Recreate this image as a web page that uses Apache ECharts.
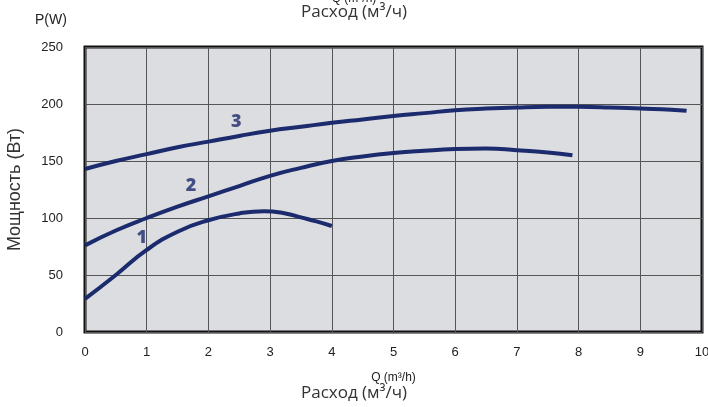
<!DOCTYPE html>
<html lang="ru">
<head>
    <meta charset="UTF-8">
    <title>Мощность - Расход</title>
    <style>
        html, body { margin: 0; padding: 0; background: #fff; }
        #chart { width: 708px; height: 407px; }
    </style>
</head>
<body>
    <div id="chart"></div>
    <script src="https://cdn.jsdelivr.net/npm/echarts@6.0.0/dist/echarts.min.js"></script>
    <script>
        // данные кривых (Q м3/ч, P Вт)
        const curve1 = [[0, 29], [0.5, 50], [1, 72], [1.5, 88], [2, 98], [2.5, 104], [2.9, 106], [3.25, 104], [3.5, 100.5], [3.75, 97], [4, 93]];
        const curve2 = [[0, 76], [0.5, 89], [1, 100], [1.5, 110], [2, 119], [2.5, 128], [3, 137], [3.5, 144], [4, 150], [4.5, 154], [5, 157], [5.5, 159], [6, 160.5], [6.5, 161], [7, 159.5], [7.5, 157.5], [7.9, 155]];
        const curve3 = [[0, 143], [0.5, 150], [1, 156], [1.5, 162], [2, 167], [2.5, 172], [3, 176.5], [3.5, 180], [4, 183.5], [4.5, 186.5], [5, 189.5], [5.5, 192], [6, 194.5], [6.5, 196], [7, 197], [7.5, 197.5], [8, 197.5], [8.5, 197], [9, 196], [9.5, 195], [9.75, 194]];
        const curveLabels = [[0.92, 83, '1'], [1.72, 128, '2'], [2.45, 184, '3']];
        const xTicks = [0, 1, 2, 3, 4, 5, 6, 7, 8, 9, 10];
        const yTicks = [0, 50, 100, 150, 200, 250];

        const lineColor = '#1b2b6d';
        const labelFont = '"Liberation Sans Narrow", "Liberation Sans", Arial, sans-serif';

        function curve(data) {
            return {
                type: 'line',
                data: data,
                smooth: true,
                showSymbol: false,
                lineStyle: { color: lineColor, width: 4 },
                z: 3
            };
        }

        const chart = echarts.init(document.getElementById('chart'));
        chart.setOption({
            animation: false,
            grid: {
                left: 85, right: 6, top: 47, bottom: 75,
                outerBoundsMode: 'none',
                show: true,
                backgroundColor: '#dcdde0',
                borderColor: '#111',
                borderWidth: 3,
                z: 0
            },
            xAxis: {
                type: 'value',
                min: xTicks[0],
                max: xTicks[xTicks.length - 1],
                interval: 1,
                axisLine: { show: false },
                axisTick: { show: false },
                axisLabel: { color: '#222', fontSize: 13, fontFamily: labelFont, margin: 14 },
                splitLine: { lineStyle: { color: '#555', width: 1 } },
                name: 'Q (m³/h)',
                nameLocation: 'middle',
                nameGap: 40,
                nameTextStyle: { color: '#222', fontSize: 12, fontFamily: labelFont }
            },
            yAxis: {
                type: 'value',
                min: yTicks[0],
                max: yTicks[yTicks.length - 1],
                interval: 50,
                axisLine: { show: false },
                axisTick: { show: false },
                axisLabel: { color: '#222', fontSize: 13, fontFamily: labelFont, margin: 22 },
                splitLine: { lineStyle: { color: '#555', width: 1 } },
                name: 'Мощность (Вт)',
                nameLocation: 'middle',
                nameRotate: 90,
                nameGap: 61,
                nameTextStyle: { color: '#333', fontSize: 18, fontFamily: '"Liberation Sans", Arial, sans-serif' }
            },
            graphic: [
                { type: 'text', left: 35, top: 13, style: { text: 'P(W)', fontSize: 14, fill: '#222', fontFamily: labelFont } },
                { type: 'text', left: 'center', top: -7, style: { text: 'Q (m³/h)', fontSize: 12, fill: '#222', fontFamily: labelFont } },
                { type: 'text', left: 'center', top: 4, style: { text: 'Расход (м³/ч)', fontSize: 17, fill: '#333', fontFamily: '"Open Sans", sans-serif' } },
                { type: 'text', left: 'center', top: 385, style: { text: 'Расход (м³/ч)', fontSize: 17, fill: '#333', fontFamily: '"Open Sans", sans-serif' } }
            ],
            series: [
                curve(curve1),
                curve(curve2),
                curve(curve3),
                {
                    type: 'scatter',
                    data: curveLabels,
                    symbolSize: 0,
                    z: 4,
                    label: {
                        show: true,
                        position: 'inside',
                        formatter: function (p) { return p.value[2]; },
                        color: lineColor,
                        fontSize: 18,
                        fontWeight: 900,
                        fontFamily: '"Open Sans", "Liberation Sans", Arial, sans-serif'
                    }
                }
            ]
        });
    </script>
</body>
</html>
